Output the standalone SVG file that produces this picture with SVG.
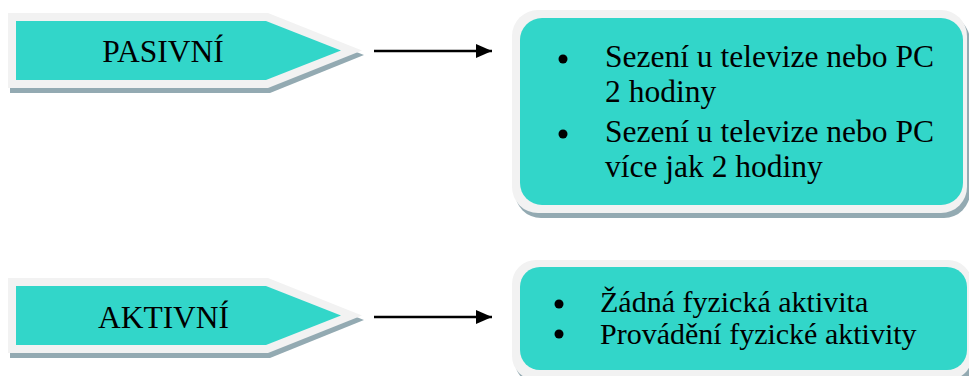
<svg xmlns="http://www.w3.org/2000/svg" width="969" height="376" viewBox="0 0 969 376">
<style>
.shadow{fill:#93aab2}
.frame{fill:#f2f2f2}
.teal{fill:#32d6c9}
.t{font-family:"Liberation Serif","Times New Roman",serif;font-size:31.5px;fill:#000}
.s{font-size:30px}
.c{text-anchor:middle}
.conn{stroke:#000;stroke-width:2.4;fill:none}
</style>
<defs>
<marker id="ah" markerWidth="16" markerHeight="14" refX="16" refY="7" orient="auto" markerUnits="userSpaceOnUse">
<path d="M0,0 L16,7 L0,14 Z" fill="#000"/>
</marker>
</defs>
<rect width="969" height="376" fill="#fff"/>
<g id="pasivni">
<path class="shadow" d="M10,18 L270,18 L364,55 L270,93 L10,93 Z"/>
<path class="frame" d="M8,13 L268,13 L362,50.5 L268,88 L8,88 Z"/>
<path class="teal" d="M16,21 L266,21 L341,50.5 L266,80 L16,80 Z"/>
<text class="t c" x="163" y="62">PASIVNÍ</text>
</g>
<g id="aktivni">
<path class="shadow" d="M10,283 L270,283 L364,320 L270,358 L10,358 Z"/>
<path class="frame" d="M8,278 L268,278 L362,315.5 L268,353 L8,353 Z"/>
<path class="teal" d="M16,286 L266,286 L341,315.5 L266,345 L16,345 Z"/>
<text class="t c" x="163.5" y="328">AKTIVNÍ</text>
</g>
<g id="pasivni-list">
<rect class="shadow" x="515" y="15" width="455" height="203" rx="26"/>
<rect class="frame" x="512" y="10" width="455" height="203" rx="26"/>
<rect class="teal" x="520" y="18" width="443" height="187" rx="22"/>
<circle cx="563" cy="59" r="4.5"/>
<circle cx="563" cy="134" r="4.5"/>
<text class="t" x="605" y="67">Sezení u televize nebo PC</text>
<text class="t" x="605" y="102">2 hodiny</text>
<text class="t" x="605" y="142">Sezení u televize nebo PC</text>
<text class="t" x="605" y="177">více jak 2 hodiny</text>
</g>
<g id="aktivni-list">
<rect class="shadow" x="515" y="265" width="460" height="120" rx="24"/>
<rect class="frame" x="512" y="260" width="460" height="120" rx="24"/>
<rect class="teal" x="520" y="267" width="447" height="103" rx="20"/>
<circle cx="559" cy="304" r="4.5"/>
<circle cx="559" cy="334" r="4.5"/>
<text class="t s" x="600" y="312">Žádná fyzická aktivita</text>
<text class="t s" x="600" y="344">Provádění fyzické aktivity</text>
</g>
<g id="connectors">
<line class="conn" x1="374" y1="51" x2="492" y2="51" marker-end="url(#ah)"/>
<line class="conn" x1="374" y1="317" x2="492" y2="317" marker-end="url(#ah)"/>
</g>
</svg>
